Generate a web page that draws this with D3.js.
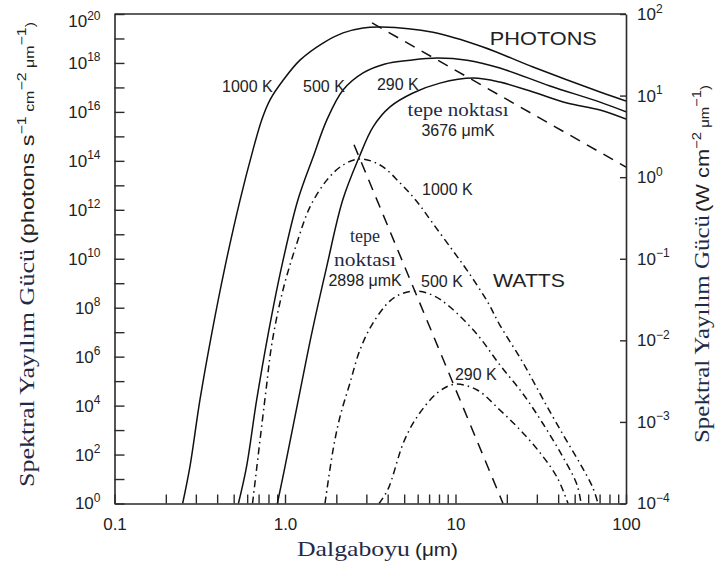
<!DOCTYPE html>
<html>
<head>
<meta charset="utf-8">
<script src="https://cdn.jsdelivr.net/npm/d3@7/dist/d3.min.js"></script>
<style>
body { margin: 0; background: #fff; }
text { font-family: "Liberation Sans", Arial, sans-serif; fill: #222; }
.serif { font-family: "Liberation Serif", "DejaVu Serif", serif; fill: #1f2b47; }
</style>
</head>
<body>
<div id="visualization"></div>
<script>
// Values: [wavelength in µm, value]
// photon curves use the left axis (photons s-1 cm-2 µm-1)
const photons1000 = [[0.251,1],[0.277,32],[0.317,1.7e4],[0.372,9e6],[0.445,4.8e9],[0.545,2.5e12],[0.649,2.8e14],[0.730,4.7e15],[0.817,3.1e16],[0.977,2.0e17],[1.224,1.3e18],[1.67,6.5e18],[2.19,1.7e19],[2.87,2.7e19],[3.66,2.95e19],[7.38,1.8e19],[14.5,4.5e18],[28.5,6.8e17],[70.4,6.5e16],[100,2.8e16]];
const photons500 = [[0.533,1],[0.595,32],[0.682,1.7e4],[0.798,9e6],[0.956,4.8e9],[1.19,2.5e12],[1.46,1.4e14],[1.76,4.7e15],[2.19,7.8e16],[2.87,3.9e17],[3.86,9.1e17],[5.41,1.3e18],[7.79,1.6e18],[11.7,1.3e18],[18.2,6.2e17],[35.8,1.15e17],[70.4,2.5e16],[100,1.0e16]];
const photons290 = [[0.902,1],[1.0,32],[1.197,1.7e4],[1.435,9e6],[1.757,4.8e9],[2.18,2.5e12],[2.72,1.4e14],[3.28,2.4e15],[4.13,1.6e16],[5.63,5.9e16],[8.11,1.5e17],[12.7,2.4e17],[18.2,1.65e17],[28.5,6.5e16],[45.1,2.3e16],[70.4,1.2e16],[100,5.1e15]];
const photonPeak = [[3.24,4.3e19],[100,5.6e13]];   // 3676 µmK

// watt curves use the right axis (W cm-2 µm-1)
const watts1000 = [[0.645,1e-4],[0.774,2.46e-3],[0.839,9.3e-3],[0.973,0.0414],[1.175,0.156],[1.40,0.43],[1.76,0.92],[2.19,1.41],[2.75,1.67],[3.61,1.41],[4.73,0.85],[5.95,0.50],[7.38,0.27],[9.67,0.125],[11.7,0.072],[15.3,0.0305],[18.2,0.0154],[24.9,5.3e-3],[32.6,1.9e-3],[42.7,7.0e-4],[53.7,3.1e-4],[64.0,1.55e-4],[68.5,1e-4]];
const watts500 = [[1.716,1e-4],[1.912,4.5e-4],[2.10,1.15e-3],[2.405,3.0e-3],[2.75,7.6e-3],[3.28,0.0163],[4.13,0.0305],[4.8,0.037],[5.95,0.0403],[7.5,0.0350],[9.29,0.0256],[13.4,0.0118],[18.2,5.0e-3],[24.9,2.2e-3],[32.6,9.5e-4],[42.7,3.7e-4],[51.6,1.7e-4],[54.5,1e-4]];
const watts290 = [[3.56,1e-4],[4.02,1.5e-4],[4.99,5.8e-4],[6.03,1.2e-3],[7.89,2.3e-3],[9.93,2.9e-3],[13.4,2.46e-3],[18.2,1.4e-3],[23.9,8.0e-4],[31.3,4.2e-4],[39.4,2.1e-4],[45.7,1e-4]];
const wattPeak = [[2.54,2.5],[19.0,1e-4]];   // 2898 µmK

// axis ticks
const xDecades = [0.1, 1, 10, 100];
const xTickLabels = ["0.1", "1.0", "10", "100"];
const leftExponents = d3.range(0, 21);
const rightExponents = d3.range(-4, 3);

// annotations: [text, wavelength, value]
const photonNotes = [["1000 K",0.427,6.5e16],["500 K",1.275,6.5e16],["290 K",3.46,7.9e16]];
const wattNotes = [["1000 K",6.36,0.60],["500 K",6.28,0.045],["290 K",9.93,3.27e-3]];

const margin = { top: 14, right: 92, bottom: 68.5, left: 114.5 };
const width = 718 - margin.left - margin.right;
const height = 572 - margin.top - margin.bottom;

const root = d3.select("#visualization")
    .append("svg")
    .attr("width", 718)
    .attr("height", 572);

const svg = root.append("g")
    .attr("transform", `translate(${margin.left},${margin.top})`);

const x = d3.scaleLog().domain([0.1, 100]).range([0, width]);
const yPh = d3.scaleLog().domain([1, 1e20]).range([height, 0]);
const yW = d3.scaleLog().domain([1e-4, 1e2]).range([height, 0]);

svg.append("clipPath").attr("id", "plot")
    .append("rect").attr("width", width).attr("height", height);

// exponent labels like 10^n
const powerLabel = (sel, show, supSize) => sel.each(function(d) {
    const e = Math.round(Math.log10(d));
    const t = d3.select(this).text("");
    if (!show(e)) return;
    t.append("tspan").text("10");
    t.append("tspan").attr("font-size", supSize).attr("dy", "-0.62em")
        .text(e < 0 ? "\u2212" + (-e) : e);
});

// left axis
const gl = svg.append("g")
    .call(d3.axisLeft(yPh).tickValues(leftExponents.map(e => Math.pow(10, e)))
        .tickSize(-10).tickSizeOuter(0).tickPadding(14));
gl.selectAll(".tick text")
    .attr("font-size", 17)
    .attr("y", d => d >= 1e20 ? 7 : 0)
    .call(powerLabel, e => e % 2 === 0, 12);

// right axis
const gr = svg.append("g")
    .attr("transform", `translate(${width},0)`)
    .call(d3.axisRight(yW).tickValues(rightExponents.map(e => Math.pow(10, e)))
        .tickSize(-6).tickSizeOuter(0).tickPadding(11));
gr.selectAll(".tick text")
    .attr("font-size", 17)
    .call(powerLabel, () => true, 12);

// bottom axis with minor ticks
const xTicks = [];
xDecades.slice(0, 3).forEach(d => d3.range(1, 10).forEach(m => xTicks.push(+(d * m).toPrecision(3))));
xTicks.push(100);
const gb = svg.append("g")
    .attr("transform", `translate(0,${height})`)
    .call(d3.axisBottom(x).tickValues(xTicks)
        .tickSize(-9).tickSizeOuter(0).tickPadding(14)
        .tickFormat(d => {
            const i = xDecades.findIndex(v => Math.abs(v - d) < 1e-9);
            return i >= 0 ? xTickLabels[i] : "";
        }));
gb.selectAll(".tick text").attr("font-size", 17);

// top frame line
svg.append("line").attr("x1", 0).attr("x2", width).attr("y1", 0).attr("y2", 0);

svg.selectAll(".domain, .tick line, line")
    .attr("stroke", "#2a2a2a").attr("stroke-width", 1.4);
svg.selectAll(".domain").attr("stroke-width", 1.6);
svg.selectAll(".tick text").attr("fill", "#222");

// curves
const linePh = d3.line().x(d => x(d[0])).y(d => yPh(d[1])).curve(d3.curveCatmullRom.alpha(0.5));
const lineW = d3.line().x(d => x(d[0])).y(d => yW(d[1])).curve(d3.curveCatmullRom.alpha(0.5));

const plot = svg.append("g").attr("clip-path", "url(#plot)")
    .attr("fill", "none").attr("stroke", "#111").attr("stroke-width", 1.5);

[photons1000, photons500, photons290].forEach(s =>
    plot.append("path").attr("d", linePh(s)));
plot.append("path").attr("d", linePh(photonPeak)).attr("stroke-dasharray", "11,8");

[watts1000, watts500, watts290].forEach(s =>
    plot.append("path").attr("d", lineW(s)).attr("stroke-dasharray", "7,4,1.5,4"));
plot.append("path").attr("d", lineW(wattPeak)).attr("stroke-dasharray", "11,8");

// annotations
photonNotes.forEach(([t, l, v]) =>
    svg.append("text").attr("x", x(l)).attr("y", yPh(v)).attr("font-size", 16).text(t));
wattNotes.forEach(([t, l, v]) =>
    svg.append("text").attr("x", x(l)).attr("y", yW(v)).attr("font-size", 16).text(t));

svg.append("text").attr("x", x(15.9)).attr("y", yPh(5.4e18))
    .attr("font-size", 18.5).attr("textLength", 107).attr("lengthAdjust", "spacingAndGlyphs")
    .text("PHOTONS");
svg.append("text").attr("x", x(16.6)).attr("y", yW(0.045))
    .attr("font-size", 18.5).attr("textLength", 72).attr("lengthAdjust", "spacingAndGlyphs")
    .text("WATTS");

svg.append("text").attr("class", "serif").attr("x", x(10.35)).attr("y", yPh(7e15))
    .attr("text-anchor", "middle").attr("font-size", 18).attr("textLength", 101)
    .attr("lengthAdjust", "spacingAndGlyphs").text("tepe noktası");
svg.append("text").attr("x", x(10.35)).attr("y", yPh(1e15))
    .attr("text-anchor", "middle").attr("font-size", 16).text("3676 μmK");

svg.append("text").attr("class", "serif").attr("x", x(2.95)).attr("y", yW(0.16))
    .attr("text-anchor", "middle").attr("font-size", 18).text("tepe");
svg.append("text").attr("class", "serif").attr("x", x(2.95)).attr("y", yW(0.082))
    .attr("text-anchor", "middle").attr("font-size", 18).attr("textLength", 62)
    .attr("lengthAdjust", "spacingAndGlyphs").text("noktası");
svg.append("text").attr("x", x(2.95)).attr("y", yW(0.046))
    .attr("text-anchor", "middle").attr("font-size", 16).text("2898 μmK");

// axis titles
const unitText = (sel, parts, size) => {
    parts.forEach(([t, sup]) => {
        sel.append("tspan")
            .attr("font-size", sup ? size * 0.68 : size)
            .attr("dy", sup === 1 ? -size * 0.42 : sup === -1 ? size * 0.42 : 0)
            .text(t);
    });
};

root.append("text").attr("class", "serif")
    .attr("transform", "translate(34,487) rotate(-90)")
    .attr("font-size", 21).attr("textLength", 238).attr("lengthAdjust", "spacingAndGlyphs")
    .text("Spektral Yayılım Gücü");
const lt = root.append("text")
    .attr("transform", "translate(34,244) rotate(-90)")
    .attr("textLength", 222).attr("lengthAdjust", "spacingAndGlyphs");
unitText(lt, [["(photons s", 0], ["\u22121", 1], [" cm", -1], ["\u22122", 1], [" μm", -1], ["\u22121", 1], [")", -1]], 18);

root.append("text").attr("class", "serif")
    .attr("transform", "translate(709,443) rotate(-90)")
    .attr("font-size", 21).attr("textLength", 228).attr("lengthAdjust", "spacingAndGlyphs")
    .text("Spektral Yayılım Gücü");
const rt = root.append("text")
    .attr("transform", "translate(709,212) rotate(-90)")
    .attr("textLength", 127).attr("lengthAdjust", "spacingAndGlyphs");
unitText(rt, [["(W cm", 0], ["\u22122", 1], [" μm", -1], ["\u22121", 1], [")", -1]], 18);

const bt = root.append("text").attr("y", 556);
bt.append("tspan").attr("class", "serif").attr("x", 297).attr("font-size", 22)
    .attr("textLength", 113).attr("lengthAdjust", "spacingAndGlyphs").text("Dalgaboyu");
bt.append("tspan").attr("x", 415).attr("font-size", 19)
    .attr("textLength", 43).attr("lengthAdjust", "spacingAndGlyphs").text("(μm)");
</script>
</body>
</html>
